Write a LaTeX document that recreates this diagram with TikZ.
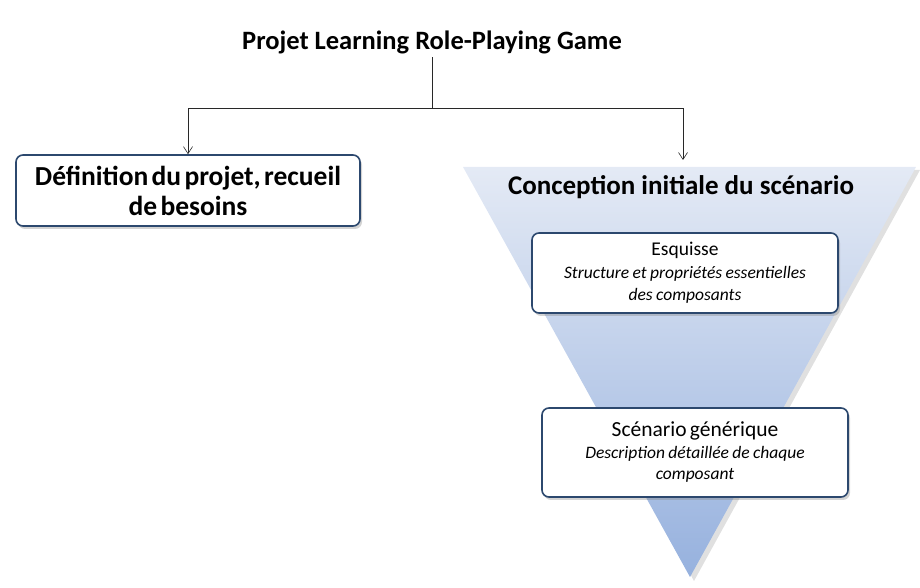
\documentclass[tikz,border=0pt]{standalone}
\usepackage{fontspec}
\setmainfont{Carlito}
\usetikzlibrary{arrows.meta, positioning, calc, shadows}
\definecolor{LRPGBorder}{RGB}{44, 72, 110}
\definecolor{LRPGTop}{RGB}{228, 234, 245}
\definecolor{LRPGBottom}{RGB}{150, 177, 222}
\definecolor{LRPGLine}{RGB}{40, 40, 40}

\tikzset{
  phasebox/.style={draw=LRPGBorder, line width=1.6pt, fill=white, rounded corners=7pt,
    drop shadow={shadow xshift=2pt, shadow yshift=-3pt, opacity=0.35}, align=center},
  link/.style={LRPGLine, line width=0.6pt},
  linkarrow/.style={link, -{Straight Barb[length=7pt, width=9pt]}}
}

\begin{document}
\begin{tikzpicture}[x=1pt,y=1pt]
  \path[use as bounding box] (0,0) rectangle (920,588);

  % Title
  \node (title) at (432,546) {\fontsize{26.5}{30}\selectfont\bfseries Projet Learning Role-Playing Game};

  % Funnel of the initial design
  \fill[black, opacity=0.12] (467,418) -- (920,418) -- (694,7) -- cycle;
  \shade[top color=LRPGTop, bottom color=LRPGBottom] (463,421) -- (916,421) -- (690,11) -- cycle;
  \coordinate (cinit) at (683,428);
  \node (conception) at (681,401) {\fontsize{27}{30}\selectfont\bfseries Conception initiale du scénario};

  % Boxes
  \node[phasebox, minimum width=344pt, minimum height=71pt, text width=334pt] (definition) at (188,397.5)
    {\fontsize{27.5}{30}\selectfont\bfseries Définition du projet, recueil\\de besoins\par};
  \node[phasebox, minimum width=306pt, minimum height=80pt, text width=296pt] (esquisse) at (685,315)
    {{\fontsize{19.5}{22.5}\selectfont Esquisse}\\
     \fontsize{17.5}{22.5}\selectfont\itshape Structure et propriétés essentielles\\des composants\par};
  \node[phasebox, minimum width=306pt, minimum height=89pt, text width=296pt] (generique) at (695,135.5)
    {{\fontsize{21.5}{22.5}\selectfont Scénario générique}\\
     \fontsize{17.5}{21.5}\selectfont\itshape Description détaillée de chaque\\composant\par};

  % Connectors
  \coordinate (fork) at (432,480);
  \draw[link] (title.south) -- (fork);
  \draw[linkarrow] (fork) -| (definition.north);
  \draw[linkarrow] (fork) -| (cinit);
\end{tikzpicture}
\end{document}
